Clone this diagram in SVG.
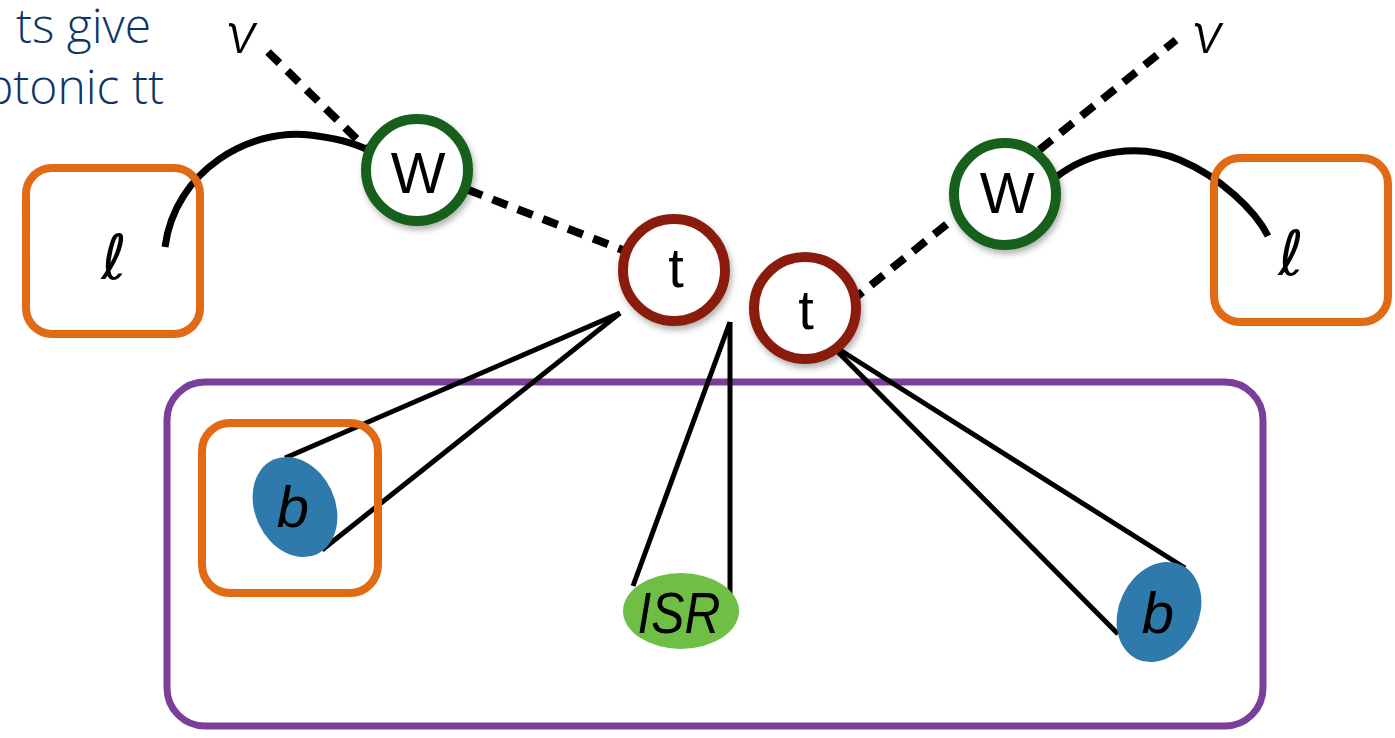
<svg xmlns="http://www.w3.org/2000/svg" width="1395" height="738" viewBox="0 0 1395 738">
<style>
.lbl{font-family:"Liberation Sans",Arial,sans-serif;fill:#000;text-anchor:middle}
.ital{font-style:italic}
.nu{font-family:Inter,"Liberation Sans",sans-serif;font-style:italic;font-weight:300;fill:#000;text-anchor:middle}
.dash{fill:none;stroke:#000;stroke-width:8;stroke-dasharray:16 11}
.solid{fill:none;stroke:#000;stroke-width:5}
.arc{fill:none;stroke:#000;stroke-width:7}
.circ{fill:#fff;stroke-width:10;filter:url(#sh)}
.box{fill:none;stroke:#e06b14;stroke-width:8}
.ell{font-family:"DejaVu Sans",sans-serif;font-style:italic;text-anchor:middle;fill:#000}
</style>
<defs>
<filter id="sh" x="-30%" y="-30%" width="160%" height="160%">
<feDropShadow dx="2" dy="4" stdDeviation="3" flood-color="#000" flood-opacity="0.3"/>
</filter>
</defs>
<rect width="1395" height="738" fill="#fff"/>
<g id="title" font-family="Open Sans,Liberation Sans,Arial,sans-serif" font-weight="300" font-size="48" fill="#0d3566" text-anchor="end">
<text x="151" y="43">ts give</text>
<text x="164" y="104">ptonic tt</text>
</g>
<g id="purple-box">
<rect x="167" y="382" width="1096" height="344" rx="38" fill="none" stroke="#7b3f99" stroke-width="7"/>
</g>
<g id="connectors">
<line class="dash" x1="268" y1="52" x2="372" y2="154"/>
<line class="dash" x1="417" y1="170" x2="674" y2="270"/>
<line class="dash" x1="850" y1="302" x2="1176" y2="40"/>
<path class="arc" d="M165,247 C175,170 250,128 310,135 C335,138 352,142 368,150"/>
<path class="arc" d="M1055,178 C1090,150 1140,143 1180,160 C1220,177 1255,210 1268,236"/>
<line class="solid" x1="620" y1="313" x2="285" y2="458"/>
<line class="solid" x1="620" y1="313" x2="322" y2="550"/>
<line class="solid" x1="730" y1="322" x2="633" y2="586"/>
<line class="solid" x1="730" y1="322" x2="730" y2="594"/>
<line class="solid" x1="829" y1="343" x2="1185" y2="568"/>
<line class="solid" x1="829" y1="343" x2="1118" y2="634"/>
</g>
<g id="lepton-left">
<rect class="box" x="26" y="168" width="174" height="166" rx="26"/>
<text class="ell" x="114" y="279" font-size="62">ℓ</text>
</g>
<g id="lepton-right">
<rect class="box" x="1214" y="158" width="174" height="164" rx="26"/>
<text class="ell" x="1291" y="275" font-size="62">ℓ</text>
</g>
<g id="nu-left"><text class="nu" x="241" y="53" font-size="54">ν</text></g>
<g id="nu-right"><text class="nu" x="1207" y="53" font-size="54">ν</text></g>
<g id="W-left">
<circle class="circ" cx="417" cy="170" r="51" stroke="#12601e"/>
<text class="lbl" x="418" y="193" font-size="58">W</text>
</g>
<g id="W-right">
<circle class="circ" cx="1005" cy="194" r="51" stroke="#12601e"/>
<text class="lbl" x="1007" y="213" font-size="58">W</text>
</g>
<g id="t-left">
<circle class="circ" cx="674" cy="270" r="51" stroke="#8a1a0c"/>
<text class="lbl" x="676" y="287" font-size="56">t</text>
</g>
<g id="t-right">
<circle class="circ" cx="805" cy="308" r="51" stroke="#8a1a0c"/>
<text class="lbl" x="806" y="329" font-size="56">t</text>
</g>
<g id="b-left">
<rect class="box" x="202" y="423" width="176" height="170" rx="28"/>
<ellipse cx="295" cy="507" rx="40" ry="52" transform="rotate(-25 295 507)" fill="#2e7bab"/>
<text class="lbl ital" x="293" y="527" font-size="58">b</text>
</g>
<g id="b-right">
<ellipse cx="1159" cy="612" rx="40" ry="52" transform="rotate(25 1159 612)" fill="#2e7bab"/>
<text class="lbl ital" x="1158" y="633" font-size="58">b</text>
</g>
<g id="ISR">
<ellipse cx="681" cy="611" rx="58" ry="38" fill="#6fbe45"/>
<text class="lbl ital" x="679" y="633" font-size="58" textLength="83" lengthAdjust="spacingAndGlyphs">ISR</text>
</g>
</svg>
